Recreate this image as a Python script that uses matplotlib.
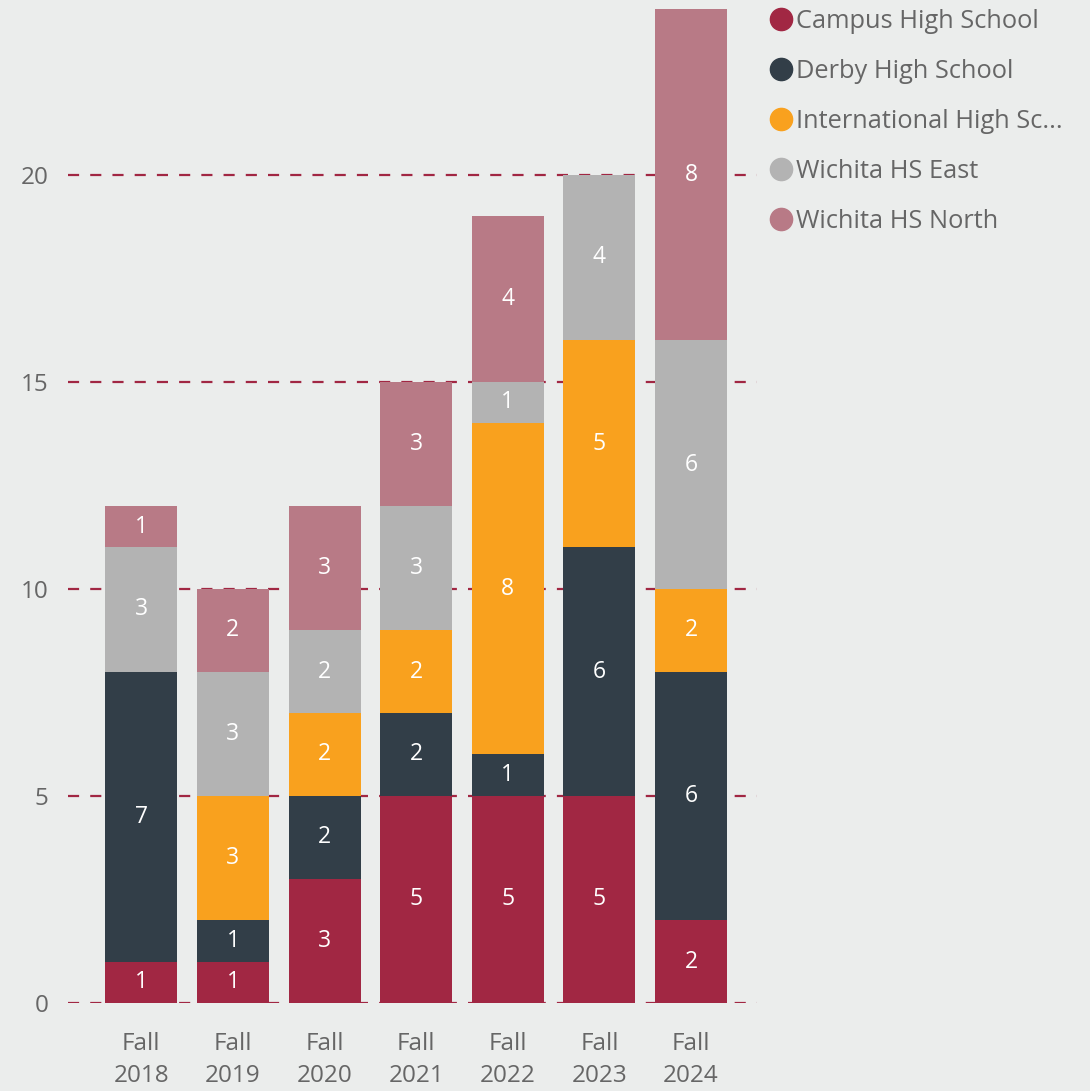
import matplotlib
matplotlib.use("Agg")
import matplotlib.pyplot as plt
from matplotlib.lines import Line2D
import numpy as np

plt.rcParams['font.family'] = ['Open Sans', 'DejaVu Sans']

# data
terms = ['Fall\n2018', 'Fall\n2019', 'Fall\n2020', 'Fall\n2021', 'Fall\n2022', 'Fall\n2023', 'Fall\n2024']
schools = ['Campus High School', 'Derby High School', 'International High Sc...',
           'Wichita HS East', 'Wichita HS North']
campus = [1, 1, 3, 5, 5, 5, 2]
derby = [7, 1, 2, 2, 1, 6, 6]
international = [0, 3, 2, 2, 8, 5, 2]
east = [3, 3, 2, 3, 1, 4, 6]
north = [1, 2, 3, 3, 4, 0, 8]
colors = ['#A12743', '#323E48', '#F9A11E', '#B3B3B3', '#B87A86']

bg = '#EBEDEC'
text_color = '#666666'

fig = plt.figure(figsize=(10.9, 10.91), dpi=100, facecolor=bg)
ax = fig.add_axes([0.0624, 0.0807, 0.6321, 0.9111], facecolor=bg)

x = np.arange(len(terms))
bottom = np.zeros(len(terms))
for name, vals, c in zip(schools, [campus, derby, international, east, north], colors):
    vals = np.array(vals)
    ax.bar(x, vals, bottom=bottom, width=0.785, color=c, zorder=3)
    for xi, b, v in zip(x, bottom, vals):
        if v > 0:
            ax.text(xi, b + v / 2, str(v), ha='center', va='center',
                    color='white', fontsize=16.5, zorder=4)
    bottom += vals

ax.set_xlim(-0.8, 6.72)
ax.set_ylim(0, 24)
ax.set_yticks([0, 5, 10, 15, 20])
ax.set_xticks(x)
ax.set_xticklabels(terms, linespacing=1.45)
ax.tick_params(axis='both', length=0, labelsize=17.5, labelcolor=text_color)
ax.tick_params(axis='y', pad=14)
ax.tick_params(axis='x', pad=21)
ax.grid(axis='y', color='#A12743', linestyle=(0, (5, 5)), linewidth=1.6, zorder=0)
for s in ax.spines.values():
    s.set_visible(False)

handles = [Line2D([], [], marker='o', linestyle='', markersize=16,
                  markerfacecolor=c, markeredgecolor=c) for c in colors]
fig.legend(handles, schools, loc='upper left', bbox_to_anchor=(0.694, 1.001),
           frameon=False, fontsize=18.3, labelcolor=text_color,
           handletextpad=0.05, labelspacing=0.98, borderaxespad=0, handlelength=1.1)

fig.savefig('out.png', dpi=100, facecolor=bg)
